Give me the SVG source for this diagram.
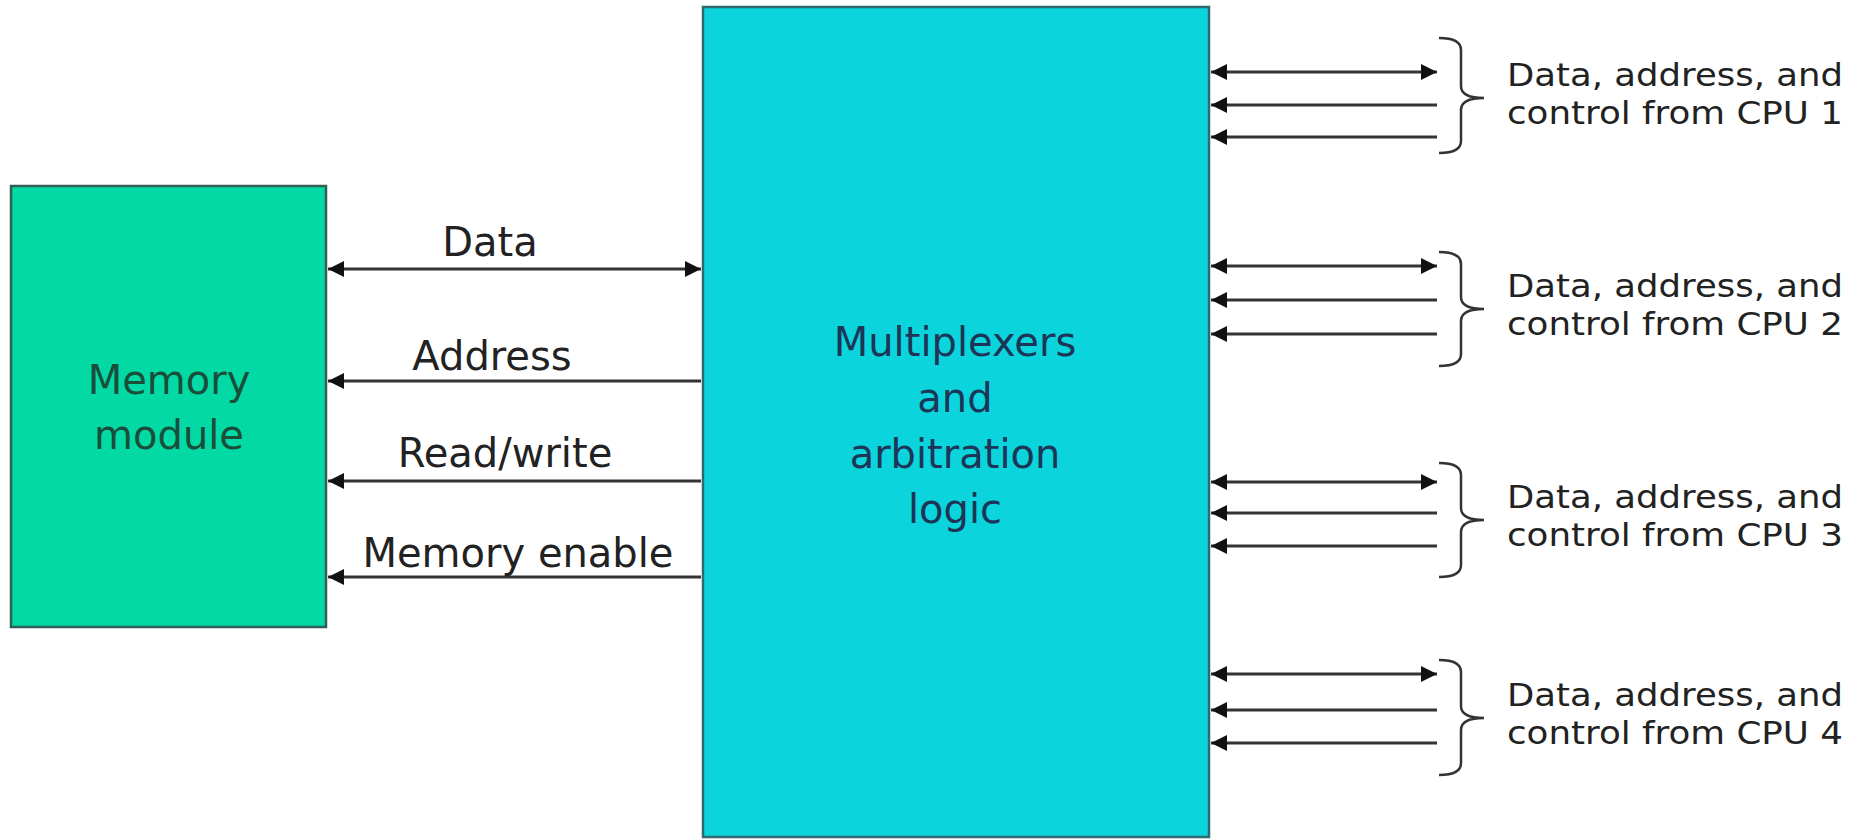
<svg xmlns="http://www.w3.org/2000/svg" width="1857" height="839" viewBox="0 0 1857 839">
<style>
.lbl{font-family:"DejaVu Sans","Liberation Sans",sans-serif;fill:#222}
.rt{font-family:"DejaVu Sans","Liberation Sans",sans-serif;fill:#222;font-size:32px}
.ln{stroke:#333;stroke-width:3;fill:none}
.br{stroke:#333;stroke-width:2.5;fill:none}
</style>
<defs>
<marker id="ah" markerUnits="userSpaceOnUse" markerWidth="16" markerHeight="16" refX="16" refY="8" orient="auto-start-reverse">
<path d="M0,0 L16,8 L0,16 z" fill="#111"/>
</marker>
</defs>
<rect width="1857" height="839" fill="#fff"/>
<g id="memory">
<rect x="11" y="186" width="315" height="441" fill="#03D9A4" stroke="#2f5f55" stroke-width="2.5"/>
<text class="lbl" x="169" y="394" font-size="40" text-anchor="middle" style="fill:#1a4d3a">Memory</text>
<text class="lbl" x="169" y="449" font-size="40" text-anchor="middle" style="fill:#1a4d3a">module</text>
</g>
<g id="mux">
<rect x="703" y="7" width="506" height="830" fill="#0BD4DC" stroke="#2f6a6e" stroke-width="2.5"/>
<text class="lbl" x="955" y="356" font-size="40" text-anchor="middle" style="fill:#1d3557">Multiplexers</text>
<text class="lbl" x="955" y="412" font-size="40" text-anchor="middle" style="fill:#1d3557">and</text>
<text class="lbl" x="955" y="468" font-size="40" text-anchor="middle" style="fill:#1d3557">arbitration</text>
<text class="lbl" x="955" y="523" font-size="40" text-anchor="middle" style="fill:#1d3557">logic</text>
</g>
<g id="connectors">
<line class="ln" x1="328" y1="269" x2="701" y2="269" marker-start="url(#ah)" marker-end="url(#ah)"/>
<line class="ln" x1="701" y1="381" x2="328" y2="381" marker-end="url(#ah)"/>
<line class="ln" x1="701" y1="481" x2="328" y2="481" marker-end="url(#ah)"/>
<line class="ln" x1="701" y1="577" x2="328" y2="577" marker-end="url(#ah)"/>
<line class="ln" x1="1211" y1="72" x2="1437" y2="72" marker-start="url(#ah)" marker-end="url(#ah)"/>
<line class="ln" x1="1437" y1="105" x2="1211" y2="105" marker-end="url(#ah)"/>
<line class="ln" x1="1437" y1="137" x2="1211" y2="137" marker-end="url(#ah)"/>
<line class="ln" x1="1211" y1="266" x2="1437" y2="266" marker-start="url(#ah)" marker-end="url(#ah)"/>
<line class="ln" x1="1437" y1="300" x2="1211" y2="300" marker-end="url(#ah)"/>
<line class="ln" x1="1437" y1="334" x2="1211" y2="334" marker-end="url(#ah)"/>
<line class="ln" x1="1211" y1="482" x2="1437" y2="482" marker-start="url(#ah)" marker-end="url(#ah)"/>
<line class="ln" x1="1437" y1="513" x2="1211" y2="513" marker-end="url(#ah)"/>
<line class="ln" x1="1437" y1="546" x2="1211" y2="546" marker-end="url(#ah)"/>
<line class="ln" x1="1211" y1="674" x2="1437" y2="674" marker-start="url(#ah)" marker-end="url(#ah)"/>
<line class="ln" x1="1437" y1="710" x2="1211" y2="710" marker-end="url(#ah)"/>
<line class="ln" x1="1437" y1="743" x2="1211" y2="743" marker-end="url(#ah)"/>
</g>
<g id="left-labels">
<text class="lbl" x="490" y="256" font-size="40" text-anchor="middle">Data</text>
<text class="lbl" x="492" y="370" font-size="40" text-anchor="middle">Address</text>
<text class="lbl" x="505" y="467" font-size="40" text-anchor="middle">Read/write</text>
<text class="lbl" x="518" y="567" font-size="40" text-anchor="middle">Memory enable</text>
</g>
<g id="cpu1">
<path class="br" d="M1439,38 Q1461,38 1461,50 L1461,86 Q1461,98 1484,98 Q1461,98 1461,110 L1461,141 Q1461,153 1439,153"/>
<text class="rt" x="1507" y="86" textLength="336" lengthAdjust="spacingAndGlyphs">Data, address, and</text>
<text class="rt" x="1507" y="124" textLength="336" lengthAdjust="spacingAndGlyphs">control from CPU 1</text>
</g>
<g id="cpu2">
<path class="br" d="M1439,252 Q1461,252 1461,264 L1461,297 Q1461,309 1484,309 Q1461,309 1461,321 L1461,354 Q1461,366 1439,366"/>
<text class="rt" x="1507" y="297" textLength="336" lengthAdjust="spacingAndGlyphs">Data, address, and</text>
<text class="rt" x="1507" y="335" textLength="336" lengthAdjust="spacingAndGlyphs">control from CPU 2</text>
</g>
<g id="cpu3">
<path class="br" d="M1439,463 Q1461,463 1461,475 L1461,508 Q1461,520 1484,520 Q1461,520 1461,532 L1461,565 Q1461,577 1439,577"/>
<text class="rt" x="1507" y="508" textLength="336" lengthAdjust="spacingAndGlyphs">Data, address, and</text>
<text class="rt" x="1507" y="546" textLength="336" lengthAdjust="spacingAndGlyphs">control from CPU 3</text>
</g>
<g id="cpu4">
<path class="br" d="M1439,660 Q1461,660 1461,672 L1461,706 Q1461,718 1484,718 Q1461,718 1461,730 L1461,763 Q1461,775 1439,775"/>
<text class="rt" x="1507" y="706" textLength="336" lengthAdjust="spacingAndGlyphs">Data, address, and</text>
<text class="rt" x="1507" y="744" textLength="336" lengthAdjust="spacingAndGlyphs">control from CPU 4</text>
</g>
</svg>
